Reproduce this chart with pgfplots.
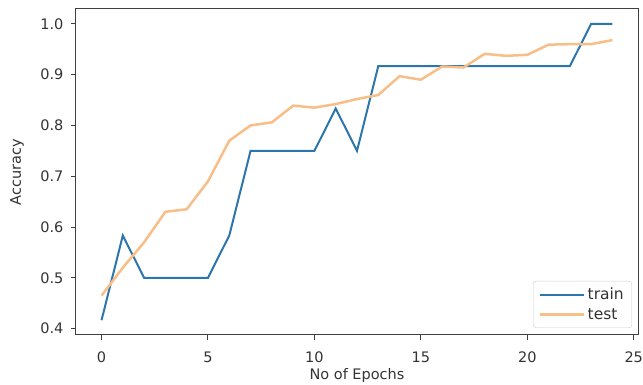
\documentclass[border=0pt]{standalone}
\usepackage{fontspec}
\setmainfont{DejaVu Sans}
\usepackage{pgfplots}
\pgfplotsset{compat=1.18}
\definecolor{trainc}{RGB}{45,118,172}
\definecolor{testc}{RGB}{247,190,135}
\newcommand\lblfont{\fontsize{14.5}{17}\selectfont}
\begin{document}
\begin{tikzpicture}
\begin{axis}[
  scale only axis, width=562pt, height=326pt,
  xmin=-1.2, xmax=25.2, ymin=0.3875, ymax=1.0292,
  xtick={0,5,10,15,20,25}, ytick={0.4,0.5,0.6,0.7,0.8,0.9,1.0},
  tick pos=left, tick align=outside, major tick length=5pt,
  every tick/.style={black!75, line width=1pt},
  axis line style={black!75, line width=1pt},
  /pgf/number format/assume math mode=true,
  yticklabel style={/pgf/number format/fixed, /pgf/number format/precision=1, /pgf/number format/fixed zerofill, xshift=-4pt},
  tick label style={font=\lblfont, text=black!80},
  xticklabel style={anchor=base, yshift=-23pt},
  xlabel={No of Epochs}, ylabel={Accuracy},
  every axis x label/.style={at={(axis description cs:0.5,-0.135)}, anchor=base, font=\lblfont, text=black!80},
  every axis y label/.style={at={(axis description cs:-0.105,0.5)}, anchor=center, rotate=90, font=\lblfont, text=black!80},
  legend style={at={(axis description cs:0.9893,0.0215)}, anchor=south east,
    draw=black!20, rounded corners=3pt, fill=white, fill opacity=0.8, text opacity=1,
    font=\fontsize{15.5}{18}\selectfont, text=black!80, inner xsep=6pt, inner ysep=5pt, row sep=3pt,
    nodes={inner sep=2pt}},
  legend cell align=left,
  legend image code/.code={\path (0pt,0pt) -- (44pt,0pt); \draw[#1] (0pt,0pt) -- (36pt,0pt);},
]
\addplot[trainc, line width=2pt] coordinates {
(0,0.4167)(1,0.5833)(2,0.5)(3,0.5)(4,0.5)(5,0.5)(6,0.5833)(7,0.75)(8,0.75)(9,0.75)(10,0.75)(11,0.8333)(12,0.75)(13,0.9167)(14,0.9167)(15,0.9167)(16,0.9167)(17,0.9167)(18,0.9167)(19,0.9167)(20,0.9167)(21,0.9167)(22,0.9167)(23,1.0)(24,1.0)};
\addlegendentry{train}
\addplot[testc, line width=2.5pt] coordinates {
(0,0.465)(1,0.52)(2,0.57)(3,0.63)(4,0.635)(5,0.69)(6,0.77)(7,0.80)(8,0.806)(9,0.839)(10,0.835)(11,0.842)(12,0.852)(13,0.86)(14,0.897)(15,0.89)(16,0.916)(17,0.914)(18,0.941)(19,0.937)(20,0.939)(21,0.959)(22,0.96)(23,0.96)(24,0.968)};
\addlegendentry{test}
\end{axis}
\pgfresetboundingbox
\path (-76pt,-50pt) rectangle (567pt,335pt);
\end{tikzpicture}
\end{document}
